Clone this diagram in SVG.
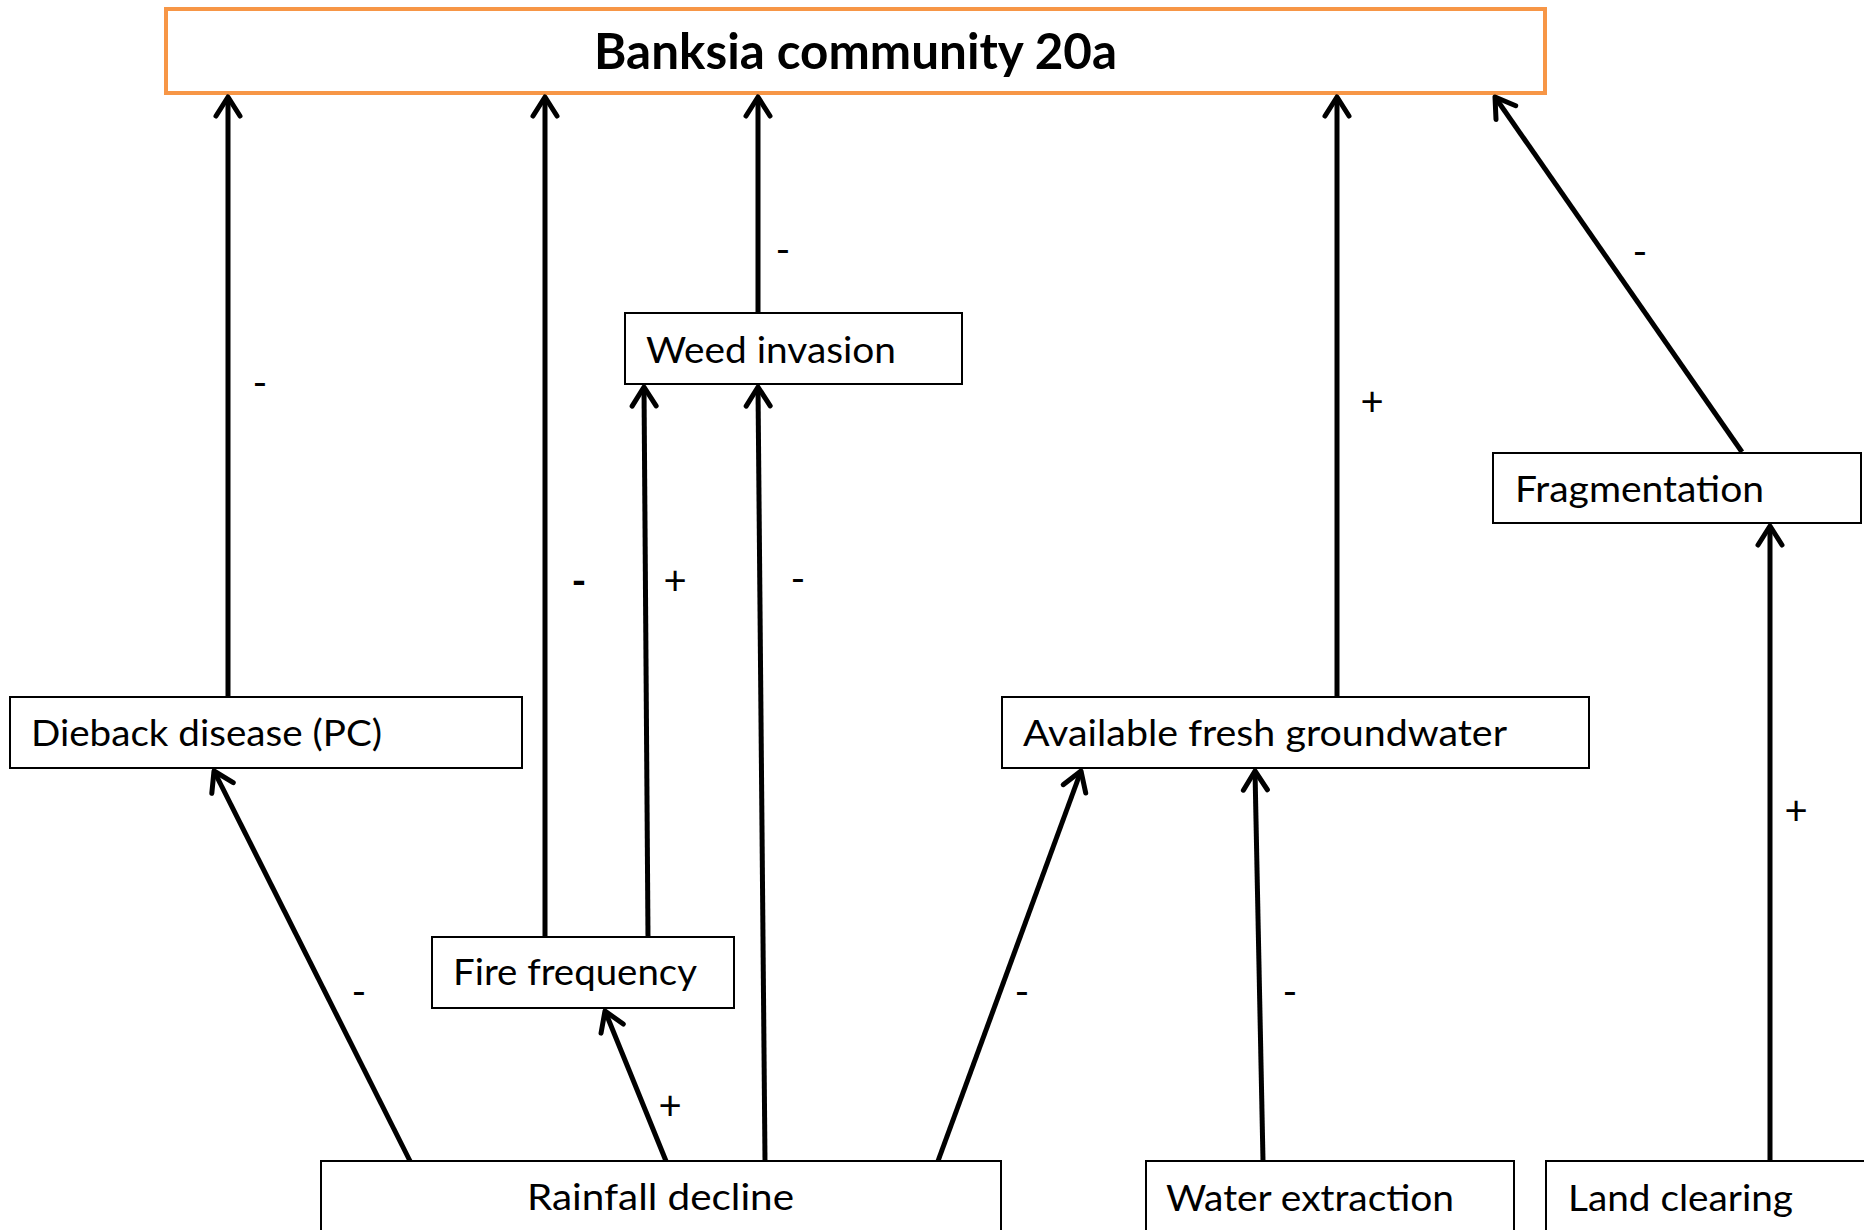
<svg xmlns="http://www.w3.org/2000/svg" width="1864" height="1230" viewBox="0 0 1864 1230">
<style>
.box{fill:#fff;stroke:#000;stroke-width:2}
.title{fill:#fff;stroke:#F79646;stroke-width:4}
.t{font-family:Lato,"Liberation Sans",sans-serif;font-size:37px;fill:#000}
.tb{font-family:Lato,"Liberation Sans",sans-serif;font-size:50px;font-weight:700;fill:#000}
.lbl{font-family:Lato,"Liberation Sans",sans-serif;font-size:40px;fill:#000;text-anchor:middle}
.c{stroke:#000;stroke-width:5;fill:none;marker-end:url(#arr)}
</style>
<defs>
<marker id="arr" markerUnits="userSpaceOnUse" markerWidth="40" markerHeight="40" viewBox="-30 -20 40 40" refX="0" refY="0" orient="auto">
<path d="M-19,-12 L0,0 L-19,12" fill="none" stroke="#000" stroke-width="5" stroke-linecap="round" stroke-linejoin="round"/>
</marker>
</defs>
<rect width="1864" height="1230" fill="#fff"/>
<g id="banksia"><rect class="title" x="166" y="9" width="1379" height="84"/><text class="tb" x="594" y="69" textLength="523" lengthAdjust="spacingAndGlyphs">Banksia community 20a</text></g>
<g id="weed"><rect class="box" x="625" y="313" width="337" height="71"/><text class="t" x="646" y="363" textLength="250" lengthAdjust="spacingAndGlyphs">Weed invasion</text></g>
<g id="fragmentation"><rect class="box" x="1493" y="453" width="368" height="70"/><text class="t" x="1515" y="502" textLength="249" lengthAdjust="spacingAndGlyphs">Fragmentation</text></g>
<g id="dieback"><rect class="box" x="10" y="697" width="512" height="71"/><text class="t" x="31" y="746" textLength="351" lengthAdjust="spacingAndGlyphs">Dieback disease (PC)</text></g>
<g id="groundwater"><rect class="box" x="1002" y="697" width="587" height="71"/><text class="t" x="1023" y="746" textLength="484" lengthAdjust="spacingAndGlyphs">Available fresh groundwater</text></g>
<g id="fire"><rect class="box" x="432" y="937" width="302" height="71"/><text class="t" x="453" y="985" textLength="244" lengthAdjust="spacingAndGlyphs">Fire frequency</text></g>
<g id="rainfall"><rect class="box" x="321" y="1161" width="680" height="90"/><text class="t" x="527" y="1210" textLength="267" lengthAdjust="spacingAndGlyphs">Rainfall decline</text></g>
<g id="water"><rect class="box" x="1146" y="1161" width="368" height="90"/><text class="t" x="1166" y="1211" textLength="288" lengthAdjust="spacingAndGlyphs">Water extraction</text></g>
<g id="land"><rect class="box" x="1546" y="1161" width="340" height="90"/><text class="t" x="1568" y="1211" textLength="225" lengthAdjust="spacingAndGlyphs">Land clearing</text></g>
<g id="connectors">
<line class="c" x1="228" y1="697" x2="228" y2="97"/>
<line class="c" x1="545" y1="937" x2="545" y2="97"/>
<line class="c" x1="648" y1="937" x2="644" y2="387"/>
<line class="c" x1="758" y1="313" x2="758" y2="97"/>
<line class="c" x1="765" y1="1161" x2="758" y2="387"/>
<line class="c" x1="410" y1="1161" x2="214" y2="771"/>
<line class="c" x1="666" y1="1161" x2="605" y2="1011"/>
<line class="c" x1="938" y1="1161" x2="1081" y2="771"/>
<line class="c" x1="1263" y1="1161" x2="1255" y2="771"/>
<line class="c" x1="1337" y1="697" x2="1337" y2="97"/>
<line class="c" x1="1742" y1="452" x2="1495" y2="97"/>
<line class="c" x1="1770" y1="1161" x2="1770" y2="526"/>
<text class="lbl" x="260" y="397">-</text>
<text class="lbl" x="579" y="595" font-weight="700">-</text>
<text class="lbl" x="675" y="595">+</text>
<text class="lbl" x="798" y="593">-</text>
<text class="lbl" x="783" y="264">-</text>
<text class="lbl" x="359" y="1006">-</text>
<text class="lbl" x="670" y="1120">+</text>
<text class="lbl" x="1022" y="1006">-</text>
<text class="lbl" x="1290" y="1006">-</text>
<text class="lbl" x="1372" y="416">+</text>
<text class="lbl" x="1640" y="266">-</text>
<text class="lbl" x="1796" y="825">+</text>
</g>
</svg>
